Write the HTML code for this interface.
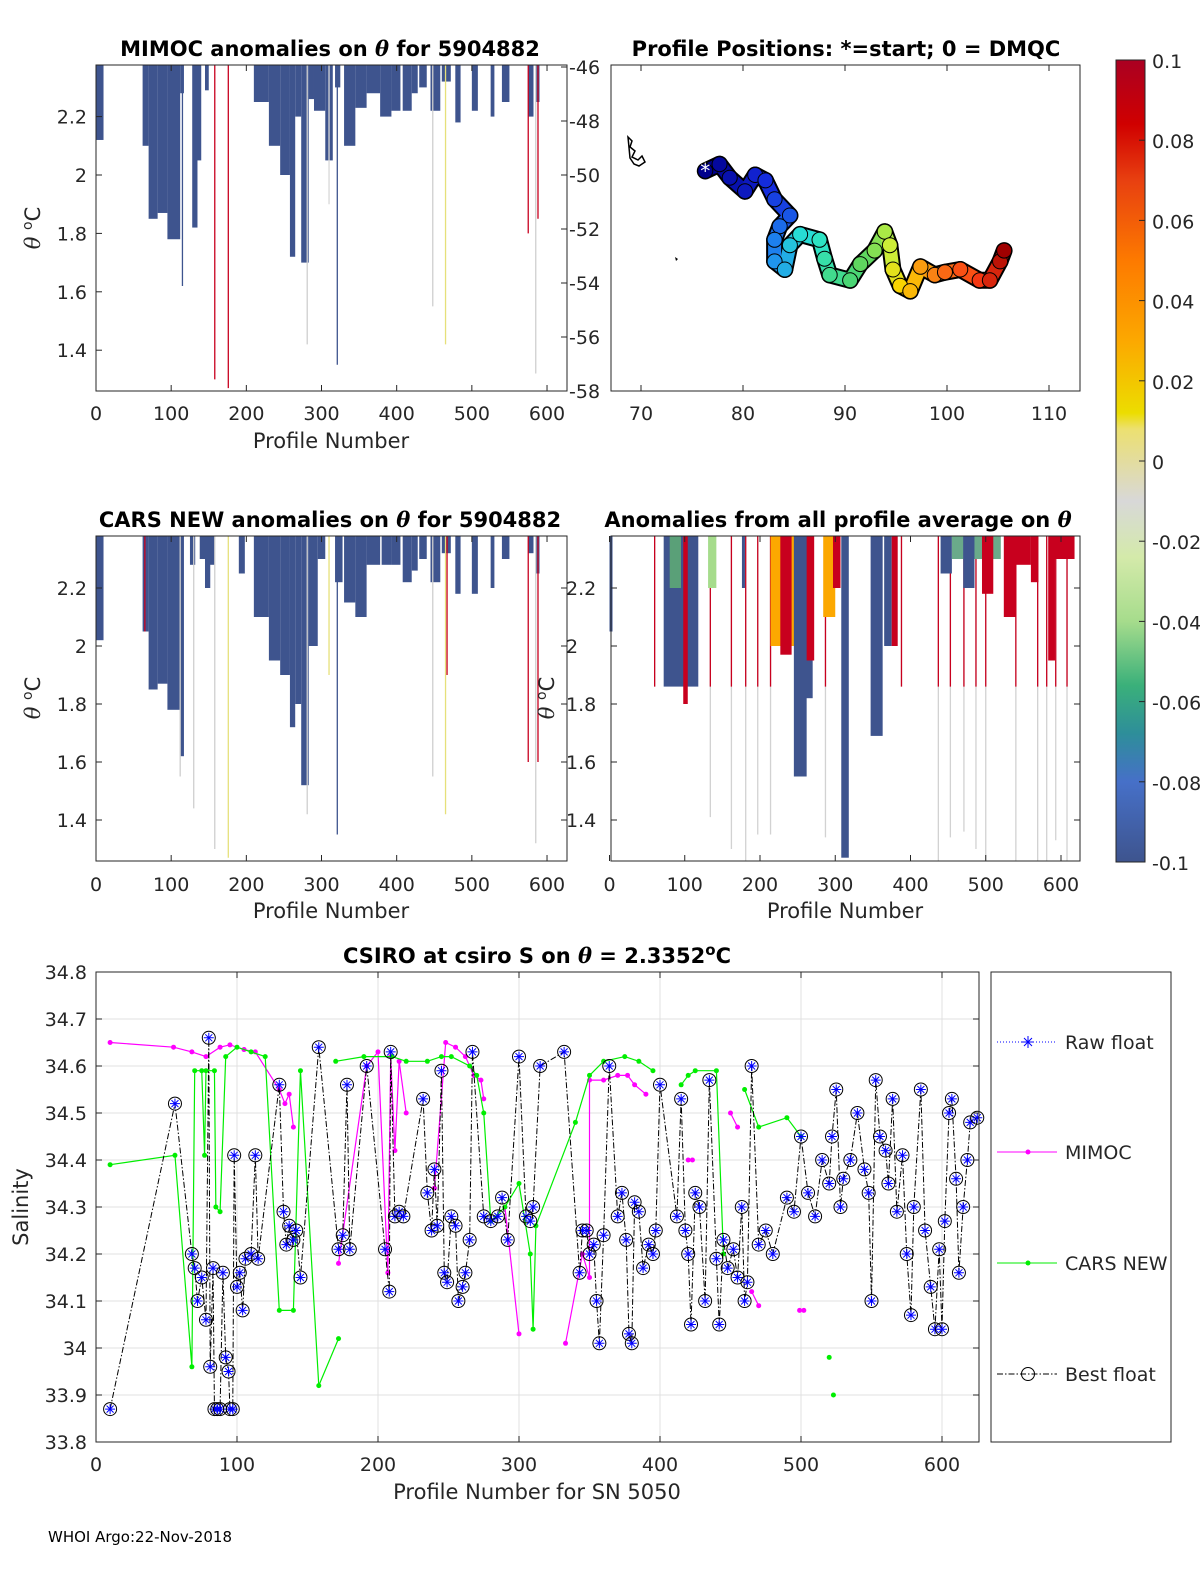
<!DOCTYPE html>
<html><head><meta charset="utf-8">
<style>
html,body{margin:0;padding:0;background:#fff;}
svg{display:block;font-family:"DejaVu Sans","Liberation Sans",sans-serif;}
.tk{font-size:19px;fill:#262626;}
.ttl{font-size:21px;font-weight:bold;fill:#000;}
.lab{font-size:21px;fill:#262626;}
</style></head>
<body>
<svg id="fig" width="1200" height="1575" viewBox="0 0 1200 1575" xmlns="http://www.w3.org/2000/svg">
<defs>
<linearGradient id="cmap" x1="0" y1="0" x2="0" y2="1">
<stop offset="0" stop-color="#aa0022"/><stop offset="0.08" stop-color="#d00000"/>
<stop offset="0.15" stop-color="#e84010"/><stop offset="0.25" stop-color="#fd7a00"/>
<stop offset="0.35" stop-color="#fca800"/><stop offset="0.44" stop-color="#ecdd00"/>
<stop offset="0.46" stop-color="#ece070"/><stop offset="0.55" stop-color="#d8d8d8"/>
<stop offset="0.62" stop-color="#d4eaaa"/><stop offset="0.70" stop-color="#a6dc8c"/>
<stop offset="0.78" stop-color="#3ab07a"/><stop offset="0.84" stop-color="#2e8e9a"/>
<stop offset="0.90" stop-color="#4670c8"/><stop offset="1" stop-color="#3e548e"/>
</linearGradient>
</defs>
<g id="root"></g>
</svg>
<script>
// ---------- data ----------
const p1Blocks=[[0,10,2.12],[62,70,2.1],[70,82,1.85],[82,95,1.87],[95,112,1.78],[112,117,2.28],[128,135,1.82],[132,140,2.05],[145,150,2.29],[210,230,2.25],[230,245,2.1],[245,258,2.0],[258,265,1.72],[265,273,2.2],[273,283,1.7],[283,290,2.26],[290,305,2.22],[305,315,2.05],[318,325,2.3],[330,345,2.1],[345,360,2.23],[360,378,2.28],[378,393,2.2],[393,405,2.22],[408,420,2.22],[420,428,2.28],[430,440,2.3],[445,458,2.22],[460,472,2.32],[478,485,2.18],[500,508,2.22],[525,530,2.2],[540,550,2.25],[575,582,2.2],[585,590,2.25]];
const p1Lines=[[158,1.3,'#c8001e'],[176,1.27,'#c8001e'],[281,1.42,'#cfcfcf'],[321,1.35,'#3e548e'],[310,1.9,'#d8d8d8'],[448,1.55,'#cfcfcf'],[465,1.42,'#e6e07a'],[575,1.8,'#c8001e'],[588,1.85,'#c8001e'],[585,1.32,'#cfcfcf'],[115,1.62,'#3e548e']];
const p3Blocks=[[0,10,2.02],[62,70,2.05],[70,82,1.85],[82,95,1.87],[95,112,1.78],[112,117,1.62],[125,132,2.28],[138,145,2.3],[145,152,2.2],[150,158,2.28],[190,198,2.25],[210,230,2.1],[230,245,1.95],[245,258,1.9],[258,265,1.72],[265,273,1.8],[273,283,1.52],[283,295,2.0],[295,305,2.3],[318,328,2.22],[330,345,2.15],[345,360,2.1],[360,378,2.28],[380,393,2.28],[393,405,2.28],[408,420,2.22],[420,428,2.26],[430,440,2.3],[445,458,2.22],[460,472,2.32],[478,485,2.18],[500,508,2.18],[525,530,2.2],[540,550,2.3],[575,582,2.32],[585,590,2.25]];
const p3Lines=[[65,2.05,'#c8001e'],[112,1.55,'#cfcfcf'],[130,1.44,'#cfcfcf'],[158,1.3,'#cfcfcf'],[176,1.27,'#e6e07a'],[281,1.42,'#cfcfcf'],[321,1.35,'#3e548e'],[310,1.9,'#e6e07a'],[448,1.55,'#cfcfcf'],[465,1.42,'#e6e07a'],[467,1.9,'#c8001e'],[575,1.6,'#c8001e'],[585,1.32,'#cfcfcf'],[588,1.6,'#c8001e']];
const p4Blocks=[[0,4,2.05,'#3e548e'],[72,118,1.86,'#3e548e'],[80,95,2.2,'#5aa078'],[98,104,1.8,'#c8001e'],[131,142,2.2,'#a6dc8c'],[176,180,2.2,'#3e548e'],[214,262,2.0,'#fca800'],[227,242,1.97,'#c8001e'],[245,262,1.55,'#3e548e'],[255,270,1.82,'#3e548e'],[262,272,1.95,'#c8001e'],[284,300,2.1,'#fca800'],[297,307,2.2,'#c8001e'],[308,318,1.27,'#3e548e'],[347,363,1.69,'#3e548e'],[365,375,2.0,'#3e548e'],[375,383,2.0,'#c8001e'],[440,455,2.25,'#3e548e'],[455,520,2.3,'#6aaa8a'],[470,485,2.2,'#3e548e'],[495,510,2.18,'#c8001e'],[524,540,2.1,'#c8001e'],[535,560,2.28,'#c8001e'],[560,570,2.22,'#c8001e'],[583,592,1.95,'#c8001e'],[590,618,2.3,'#c8001e']];
const p4RedLines=[60,134,162,181,197,214,287,388,437,453,471,487,500,540,569,581,593,608];
const p4GreyBottoms=[1.86,1.41,1.3,1.26,1.35,1.35,1.34,1.86,1.26,1.34,1.36,1.3,1.26,1.26,1.26,1.26,1.33,1.26];
const trackLon=[76.3,77.7,78.7,80.2,81.2,82.2,83.1,84.6,83.6,83.1,83.1,84.1,84.6,85.6,87.5,88.0,88.5,90.5,91.5,92.9,93.9,94.4,94.7,95.4,96.4,97.4,98.8,99.8,101.3,103.2,104.2,105.2,105.6];
const trackLat=[-49.85,-49.6,-50.1,-50.6,-50.0,-50.2,-50.9,-51.5,-51.9,-52.4,-53.2,-53.5,-52.6,-52.2,-52.4,-53.1,-53.7,-53.9,-53.3,-52.8,-52.1,-52.6,-53.5,-54.1,-54.3,-53.4,-53.7,-53.6,-53.5,-53.9,-53.9,-53.2,-52.8];
const bestP=[10,56,68,70,72,75,78,80,81,83,84,86,88,90,92,94,95,97,98,100,102,104,106,110,113,115,130,133,135,137,140,142,145,158,172,175,178,180,192,205,208,209,212,215,218,232,235,238,240,242,245,247,249,252,255,257,260,262,265,267,275,280,285,288,292,300,305,308,310,315,332,343,345,348,350,353,355,357,360,364,370,373,376,378,380,382,385,388,392,395,397,400,412,415,418,420,422,425,428,432,435,440,442,445,448,452,455,458,460,462,465,470,475,480,490,495,500,505,510,515,520,522,525,528,530,535,540,545,548,550,553,556,560,562,565,568,572,575,578,580,585,588,592,595,598,600,602,605,607,610,612,615,618,620,625];
const bestS=[33.87,34.52,34.2,34.17,34.1,34.15,34.06,34.66,33.96,34.17,33.87,33.87,33.87,34.16,33.98,33.95,33.87,33.87,34.41,34.13,34.16,34.08,34.19,34.2,34.41,34.19,34.56,34.29,34.22,34.26,34.23,34.25,34.15,34.64,34.21,34.24,34.56,34.21,34.6,34.21,34.12,34.63,34.28,34.29,34.28,34.53,34.33,34.25,34.38,34.26,34.59,34.16,34.14,34.28,34.26,34.1,34.13,34.16,34.23,34.63,34.28,34.27,34.28,34.32,34.23,34.62,34.28,34.27,34.3,34.6,34.63,34.16,34.25,34.25,34.2,34.22,34.1,34.01,34.24,34.6,34.28,34.33,34.23,34.03,34.01,34.31,34.29,34.17,34.22,34.2,34.25,34.56,34.28,34.53,34.25,34.2,34.05,34.33,34.3,34.1,34.57,34.19,34.05,34.23,34.17,34.21,34.15,34.3,34.1,34.14,34.6,34.22,34.25,34.2,34.32,34.29,34.45,34.33,34.28,34.4,34.35,34.45,34.55,34.3,34.36,34.4,34.5,34.38,34.33,34.1,34.57,34.45,34.42,34.35,34.53,34.29,34.41,34.2,34.07,34.3,34.55,34.25,34.13,34.04,34.21,34.04,34.27,34.5,34.53,34.36,34.16,34.3,34.4,34.48,34.49];
const mimocP=[10,55,68,78,88,95,105,113,130,134,137,140,null,172,192,200,207,209,212,215,220,null,240,248,255,262,268,273,275,null,290,300,null,333,345,350,350,360,370,377,382,390,null,420,423,null,450,455,null,465,470,null,499,502];
const mimocS=[34.65,34.64,34.63,34.62,34.64,34.645,34.635,34.63,34.55,34.52,34.54,34.47,null,34.18,34.6,34.63,34.16,34.62,34.42,34.61,34.5,null,34.34,34.65,34.64,34.62,34.58,34.57,34.53,null,34.3,34.03,null,34.01,34.2,34.15,34.57,34.57,34.58,34.58,34.56,34.54,null,34.4,34.4,null,34.5,34.47,null,34.12,34.09,null,34.08,34.08];
const carsP=[10,56,68,70,75,77,78,84,85,88,92,100,110,120,130,140,145,158,172,null,170,190,210,220,235,245,252,265,270,275,280,290,300,308,310,312,340,350,360,375,385,395,null,415,420,425,440,445,null,460,470,490,500,null,520,null,523];
const carsS=[34.39,34.41,33.96,34.59,34.59,34.41,34.59,34.59,34.3,34.29,34.62,34.64,34.63,34.62,34.08,34.08,34.59,33.92,34.02,null,34.61,34.62,34.62,34.61,34.61,34.62,34.62,34.6,34.58,34.5,34.27,34.3,34.35,34.2,34.04,34.26,34.48,34.58,34.61,34.62,34.61,34.59,null,34.56,34.58,34.59,34.59,34.2,null,34.55,34.47,34.49,34.45,null,33.98,null,33.9];
const salTicks=[33.8,33.9,34,34.1,34.2,34.3,34.4,34.5,34.6,34.7,34.8];
const profTicks=[0,100,200,300,400,500,600];
const thetaTicks=[1.4,1.6,1.8,2,2.2];
const latTicks=[-46,-48,-50,-52,-54,-56,-58];
const lonTicks=[70,80,90,100,110];
const cbTicks=[0.1,0.08,0.06,0.04,0.02,0,-0.02,-0.04,-0.06,-0.08,-0.1];

// ---------- helpers ----------
const NS='http://www.w3.org/2000/svg';
const root=document.getElementById('root');
function el(tag,attrs,parent,text){const e=document.createElementNS(NS,tag);for(const k in attrs)e.setAttribute(k,attrs[k]);if(text!==undefined)e.textContent=text;(parent||root).appendChild(e);return e;}
function grp(name){const g=el('g',{});


return g;}
const BLUE='#3e548e';
const p1x=p=>96+p*0.7517, p1y=t=>175-(t-2)*292;
const p3x=p1x, p3y=t=>646-(t-2)*290;
const p4x=p=>609.5+p*0.7525, p4y=p3y;
const mx=l=>641+(l-70)*10.2, my=l=>67+(-46-l)*27;
const bx=p=>96+p*1.41, by=s=>972+(34.8-s)*470;

function heatPanel(name,L,T,R,B,xs,ys,blocks,lines){
  const g=grp(name);
  blocks.forEach(b=>{const r=el('rect',{x:xs(b[0]),y:T,width:Math.max(1.5,xs(b[1])-xs(b[0])),height:ys(b[2])-T,fill:b[3]||BLUE},g);
    
    });
  lines.forEach(l=>{const ln=el('line',{x1:xs(l[0]),x2:xs(l[0]),y1:T,y2:ys(l[1]),stroke:l[2],'stroke-width':1.3},g);
    
    });
  return g;
}
function box(name,L,T,R,B){const r=el('rect',{x:L,y:T,width:R-L,height:B-T,fill:'none',stroke:'#262626','stroke-width':1});

}
function xTicks(vals,xs,T,B,ty,g){vals.forEach(v=>{const x=xs(v);el('line',{x1:x,x2:x,y1:B,y2:B-6,stroke:'#262626'},g);el('line',{x1:x,x2:x,y1:T,y2:T+6,stroke:'#262626'},g);
  const t=el('text',{x:x,y:ty,'text-anchor':'middle',class:'tk'},g,String(v));
  
  });}
function yTicks(vals,ys,L,R,tx,g,anchor){vals.forEach(v=>{const y=ys(v);el('line',{x1:L,x2:L+6,y1:y,y2:y,stroke:'#262626'},g);el('line',{x1:R,x2:R-6,y1:y,y2:y,stroke:'#262626'},g);
  const t=el('text',{x:tx,y:y+7,'text-anchor':anchor,class:'tk'},g,String(v));
  
  });}
function label(name,x,y,txt,cls,rot){const a={x:x,y:y,'text-anchor':'middle',class:cls};if(rot)a.transform='rotate(-90 '+x+' '+y+')';const t=el('text',a,root);t.innerHTML=txt;

return t;}
const TH='<tspan font-style="italic" font-family="DejaVu Serif">θ</tspan>';

// ---------- panel 1 ----------
heatPanel('mimoc-anomaly-heatmap',96,65,567,391,p1x,p1y,p1Blocks,p1Lines);
box('mimoc-axes',96,65,567,391);
let g=grp('mimoc-ticks');
xTicks(profTicks,p1x,65,391,420,g);
thetaTicks.forEach(v=>{const y=p1y(v);el('line',{x1:96,x2:102,y1:y,y2:y,stroke:'#262626'},g);const t=el('text',{x:87,y:y+7,'text-anchor':'end',class:'tk'},g,String(v));

});
latTicks.forEach(v=>{const y=my(v);el('line',{x1:567,x2:561,y1:y,y2:y,stroke:'#262626'},g);const t=el('text',{x:569,y:y+7,'text-anchor':'start',class:'tk'},g,String(v));

});
label('mimoc-title',330,56,'MIMOC anomalies on '+TH+'  for 5904882','ttl');
label('mimoc-x-label',331,448,'Profile Number','lab');
label('mimoc-y-label',40,228,TH+' <tspan dy="-8" font-size="14">o</tspan><tspan dy="8">C</tspan>','lab',true);

// ---------- map ----------
box('map-axes',611,65,1080,391);
g=grp('map-ticks');
lonTicks.forEach(v=>{const x=mx(v);el('line',{x1:x,x2:x,y1:391,y2:385,stroke:'#262626'},g);el('line',{x1:x,x2:x,y1:65,y2:71,stroke:'#262626'},g);
const t=el('text',{x:x,y:420,'text-anchor':'middle',class:'tk'},g,String(v));

});
const jet=f=>{const s=[[0,[0,0,140]],[0.15,[20,40,220]],[0.3,[30,140,240]],[0.42,[40,230,210]],[0.55,[80,210,100]],[0.65,[200,240,60]],[0.72,[250,210,0]],[0.8,[250,140,20]],[0.9,[250,60,20]],[1,[160,0,0]]];
 for(let i=1;i<s.length;i++){if(f<=s[i][0]){const a=s[i-1],b=s[i],t=(f-a[0])/(b[0]-a[0]);return 'rgb('+a[1].map((c,k)=>Math.round(c+(b[1][k]-c)*t)).join(',')+')';}}return 'rgb(160,0,0)';};
g=grp('float-track');
const n=trackLon.length;
for(let i=0;i<n-1;i++){el('line',{x1:mx(trackLon[i]),y1:my(trackLat[i]),x2:mx(trackLon[i+1]),y2:my(trackLat[i+1]),stroke:'#000','stroke-width':17,'stroke-linecap':'round'},g);}
for(let i=0;i<n-1;i++){el('line',{x1:mx(trackLon[i]),y1:my(trackLat[i]),x2:mx(trackLon[i+1]),y2:my(trackLat[i+1]),stroke:jet(i/(n-1)),'stroke-width':13,'stroke-linecap':'round'},g);}
for(let i=0;i<n;i++){const c=el('circle',{cx:mx(trackLon[i]),cy:my(trackLat[i]),r:7.5,fill:jet(i/(n-1)),stroke:'#000','stroke-width':1},g);

}
el('text',{x:mx(trackLon[0]),y:my(trackLat[0])+7,'text-anchor':'middle','font-size':20,fill:'#fff'},g,'*');
el('path',{d:'M628 137 l4 4 l-2 6 l5 4 l-3 6 l6 3 l4 -4 l3 6 l-6 4 l-5 -2 l-4 -6 z',fill:'none',stroke:'#000','stroke-width':1.5},g);
el('path',{d:'M675 257 l3 2 l-2 2 z',fill:'#000'},g);
label('map-title',846,56,'Profile Positions: *=start; 0 = DMQC','ttl');

// ---------- colorbar ----------
g=grp('colorbar');
el('rect',{x:1116,y:60,width:29,height:802,fill:'url(#cmap)',stroke:'#262626'},g);
cbTicks.forEach(v=>{const y=60+(0.1-v)/0.2*802;el('line',{x1:1139,x2:1145,y1:y,y2:y,stroke:'#262626'},g);
const t=el('text',{x:1152,y:y+8,'text-anchor':'start',class:'tk'},g,String(v));

});

// ---------- panel 3 ----------
heatPanel('cars-anomaly-heatmap',96,536,567,861,p3x,p3y,p3Blocks,p3Lines);
box('cars-axes',96,536,567,861);
g=grp('cars-ticks');
xTicks(profTicks,p3x,536,861,891,g);
yTicks(thetaTicks,p3y,96,567,87,g,'end');
label('cars-title',330,527,'CARS NEW anomalies on '+TH+' for 5904882','ttl');
label('cars-x-label',331,918,'Profile Number','lab');
label('cars-y-label',40,698,TH+' <tspan dy="-8" font-size="14">o</tspan><tspan dy="8">C</tspan>','lab',true);

// ---------- panel 4 ----------
g=grp('average-anomaly-heatmap');
p4RedLines.forEach((p,i)=>{const a=el('line',{x1:p4x(p),x2:p4x(p),y1:536,y2:p4y(p4GreyBottoms[i]),stroke:'#d2d2d2','stroke-width':1.3},g);


const b=el('line',{x1:p4x(p),x2:p4x(p),y1:536,y2:p4y(1.86),stroke:'#c8001e','stroke-width':1.3},g);

});
p4Blocks.forEach(b=>{const r=el('rect',{x:p4x(b[0]),y:536,width:Math.max(1.5,p4x(b[1])-p4x(b[0])),height:p4y(b[2])-536,fill:b[3]},g);

});
box('average-axes',611,536,1080,861);
g=grp('average-ticks');
xTicks(profTicks,p4x,536,861,891,g);
yTicks(thetaTicks,p4y,611,1080,566,g,'start');
label('average-title',838,527,'Anomalies from all profile average on '+TH,'ttl');
label('average-x-label',845,918,'Profile Number','lab');
label('average-y-label',554,698,TH+' <tspan dy="-8" font-size="14">o</tspan><tspan dy="8">C</tspan>','lab',true);

// ---------- bottom chart ----------
g=grp('salinity-grid');
salTicks.forEach(v=>el('line',{x1:96,x2:979,y1:by(v),y2:by(v),stroke:'#e0e0e0'},g));
profTicks.forEach(v=>el('line',{x1:bx(v),x2:bx(v),y1:972,y2:1442,stroke:'#e0e0e0'},g));
function series(name,P,S,color,dash,width){const gg=grp(name);let pts=[];const flush=()=>{if(pts.length>1){el('polyline',{points:pts.join(' '),fill:'none',stroke:color,'stroke-width':width,'stroke-dasharray':dash||''},gg);}pts=[];};
 for(let i=0;i<P.length;i++){if(P[i]===null){flush();continue;}pts.push(bx(P[i])+','+by(S[i]));}flush();return gg;}
let gm=series('mimoc-series',mimocP,mimocS,'#ff00ff','',1.2);
mimocP.forEach((p,i)=>{if(p===null)return;const c=el('circle',{cx:bx(p),cy:by(mimocS[i]),r:2.5,fill:'#ff00ff'},gm);

});
let gc=series('cars-series',carsP,carsS,'#00ee00','',1.2);
carsP.forEach((p,i)=>{if(p===null)return;const c=el('circle',{cx:bx(p),cy:by(carsS[i]),r:2.5,fill:'#00ee00'},gc);

});
let gb=series('best-float-series',bestP,bestS,'#000','6,2,1.5,2',1);
bestP.forEach((p,i)=>{const x=bx(p),y=by(bestS[i]);
const c=el('circle',{cx:x,cy:y,r:6.5,fill:'none',stroke:'#000','stroke-width':1},gb);


el('path',{d:`M${x-5} ${y}h10M${x} ${y-5}v10M${x-3.5} ${y-3.5}l7 7M${x-3.5} ${y+3.5}l7 -7`,stroke:'#0000ff','stroke-width':1},gb);});
box('salinity-axes',96,972,979,1442);
g=grp('salinity-ticks');
profTicks.forEach(v=>{const x=bx(v);el('line',{x1:x,x2:x,y1:1442,y2:1436,stroke:'#262626'},g);el('line',{x1:x,x2:x,y1:972,y2:978,stroke:'#262626'},g);
const t=el('text',{x:x,y:1471,'text-anchor':'middle',class:'tk'},g,String(v));

});
salTicks.forEach(v=>{const y=by(v);el('line',{x1:96,x2:102,y1:y,y2:y,stroke:'#262626'},g);el('line',{x1:979,x2:973,y1:y,y2:y,stroke:'#262626'},g);
const t=el('text',{x:87,y:y+7,'text-anchor':'end',class:'tk'},g,(v===34?'34':v.toFixed(1)));

});
label('salinity-title',537,963,'CSIRO at csiro S on '+TH+' = 2.3352<tspan dy="-8" font-size="15">o</tspan><tspan dy="8">C</tspan>','ttl');
label('salinity-x-label',537,1499,'Profile Number for SN 5050','lab');
label('salinity-y-label',28,1207,'Salinity','lab',true);

// legend
g=grp('legend');
el('rect',{x:991,y:972,width:180,height:470,fill:'#fff',stroke:'#262626'},g);
function legEntry(name,y,txt,color,dash,marker){const e=grp(name);
 el('line',{x1:997,x2:1057,y1:y,y2:y,stroke:color,'stroke-width':1,'stroke-dasharray':dash||''},e);
 if(marker==='star')el('path',{d:`M1022 ${y}h12M1028 ${y-6}v12M1024 ${y-4}l8 8M1024 ${y+4}l8 -8`,stroke:'#0000ff'},e);
 if(marker==='dot')el('circle',{cx:1028,cy:y,r:2.5,fill:color},e);
 if(marker==='circ')el('circle',{cx:1028,cy:y,r:6.5,fill:'none',stroke:'#000'},e);
 el('text',{x:1065,y:y+7,class:'tk'},e,txt);}
legEntry('legend-raw-float',1042,'Raw float','#0000ff','1,2','star');
legEntry('legend-mimoc',1152,'MIMOC','#ff00ff','','dot');
legEntry('legend-cars-new',1263,'CARS NEW','#00ee00','','dot');
legEntry('legend-best-float',1374,'Best float','#000','6,2,1.5,2','circ');

const f=el('text',{x:48,y:1542,'font-size':15,fill:'#000'},root,'WHOI Argo:22-Nov-2018');


</script>
</body></html>
